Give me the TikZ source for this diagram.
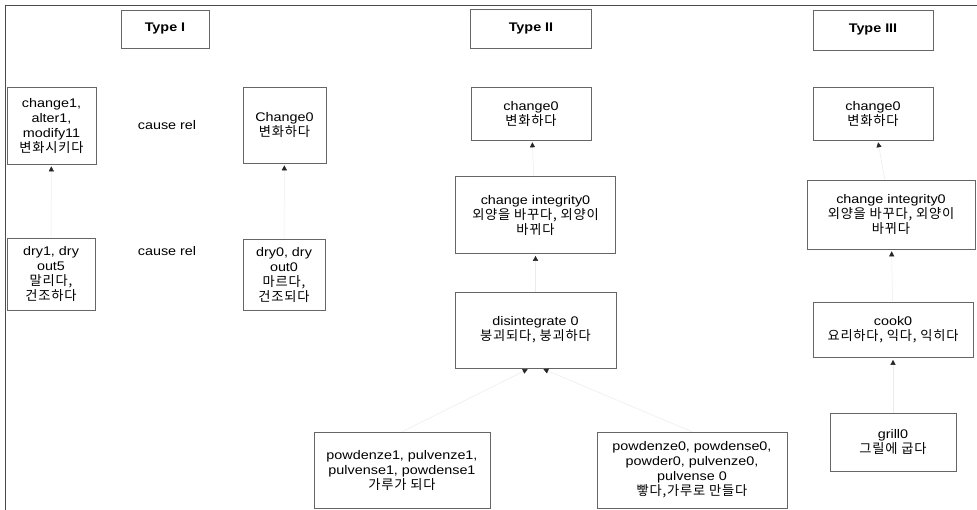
\documentclass[tikz,border=0pt]{standalone}
\usepackage{fontspec}
\setmainfont{Liberation Sans}[FakeStretch=1.15]
\newfontfamily\kr{Noto Sans CJK KR}[Scale=1.06,LetterSpace=6]
\usetikzlibrary{positioning,arrows.meta}
\tikzset{
sensebox/.style={draw=black!60, line width=0.6pt, align=center, inner sep=2pt,
  font=\fontsize{12.5}{15}\selectfont},
typebox/.style={sensebox, font=\fontsize{12.5}{15}\selectfont\bfseries},
rellabel/.style={font=\fontsize{12.5}{15}\selectfont},
link/.style={draw=black!8, line width=0.5pt,
  -{Triangle[length=5pt,width=5pt,color=black!85]}, shorten >=2pt}
}

\begin{document}
\begin{tikzpicture}[x=1pt,y=-1pt]
\useasboundingbox (0,0) rectangle (977,510);
\draw[black!70,line width=0.8pt] (5,510)--(5,5)--(977,5);
\node[typebox,minimum width=88,minimum height=38] (typeI) at (165,29) {Type I};
\node[typebox,minimum width=121,minimum height=39] (typeII) at (531,29) {Type II};
\node[typebox,minimum width=120,minimum height=40] (typeIII) at (873,30) {Type III};
\node[sensebox,minimum width=89,minimum height=77] (chgone) at (51.5,125.5)
{change1,\\alter1,\\modify11\\{\kr 변화시키다}};
\node[rellabel] (causeA) at (167,125) {cause rel};
\node[sensebox,minimum width=83,minimum height=76] (chgzero) at (284.5,125)
{Change0\\{\kr 변화하다}};
\node[sensebox,minimum width=88,minimum height=72] (dryone) at (51,274)
{dry1, dry\\out5\\{\kr 말리다,}\\{\kr 건조하다}};
\node[rellabel] (causeB) at (167,251) {cause rel};
\node[sensebox,minimum width=82,minimum height=71] (dryzero) at (284,274.5)
{dry0, dry\\out0\\{\kr 마르다,}\\{\kr 건조되다}};
\node[sensebox,minimum width=120,minimum height=53] (chgII) at (531,113.5)
{change0\\{\kr 변화하다}};
\node[sensebox,minimum width=120,minimum height=53] (chgIII) at (873,113.5)
{change0\\{\kr 변화하다}};
\node[sensebox,minimum width=160,minimum height=77] (integII) at (535.5,215)
{change integrity0\\{\kr 외양을 바꾸다, 외양이}\\{\kr 바뀌다}};
\node[sensebox,minimum width=168,minimum height=69] (integIII) at (891,214.5)
{change integrity0\\{\kr 외양을 바꾸다, 외양이}\\{\kr 바뀌다}};
\node[sensebox,minimum width=161,minimum height=76] (disint) at (535.5,330)
{disintegrate 0\\{\kr 붕괴되다, 붕괴하다}};
\node[sensebox,minimum width=160,minimum height=55] (cook) at (893,330)
{cook0\\{\kr 요리하다, 익다, 익히다}};
\node[sensebox,minimum width=126,minimum height=58] (grill) at (893,442)
{grill0\\{\kr 그릴에 굽다}};
\node[sensebox,minimum width=176,minimum height=76] (powone) at (402,470)
{powdenze1, pulvenze1,\\pulvense1, powdense1\\{\kr 가루가 되다}};
\node[sensebox,minimum width=190,minimum height=76] (powzero) at (692,470)
{powdenze0, powdense0,\\powder0, pulvenze0,\\pulvense 0\\{\kr 빻다,가루로 만들다}};
\draw[link] (dryone)--(chgone);
\draw[link] (dryzero)--(chgzero);
\draw[link] (integII)--(chgII);
\draw[link] (disint)--(integII);
\draw[link] (powone.north)--([xshift=-6]disint.south);
\draw[link] (powzero.north)--([xshift=6]disint.south);
\draw[link] (integIII)--(chgIII);
\draw[link] (cook)--(integIII);
\draw[link] (grill)--(cook);
\end{tikzpicture}
\end{document}
